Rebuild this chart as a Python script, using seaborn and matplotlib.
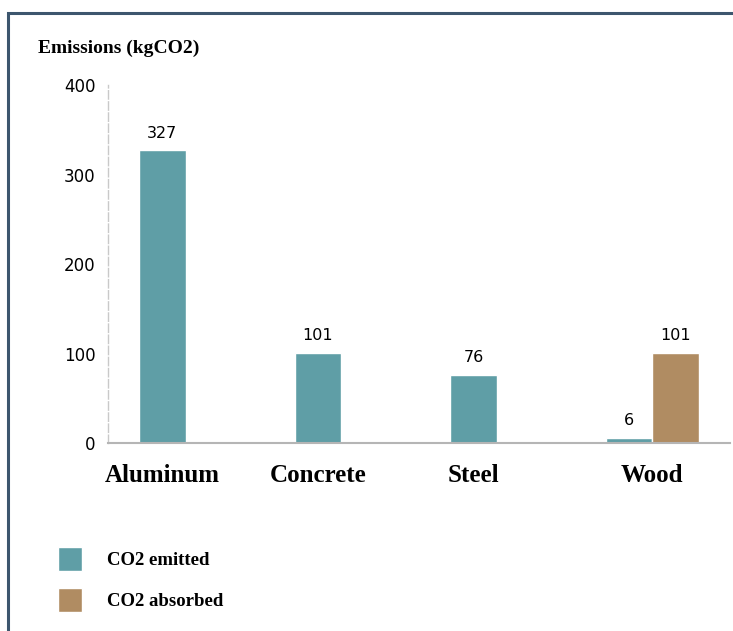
import seaborn as sns
import matplotlib.pyplot as plt
import pandas as pd
from matplotlib.patches import Rectangle

# Chart values
materials = ["Aluminum", "Concrete", "Steel", "Wood"]
emitted = [327, 101, 76, 6]
absorbed_materials = ["Wood"]
absorbed = [101]
series_names = ["CO2 emitted", "CO2 absorbed"]
y_ticks = [0, 100, 200, 300, 400]

teal = "#5f9ea6"
brown = "#b08c62"
bar_w = 0.3

df = pd.concat([
    pd.DataFrame({"material": materials, "kg": emitted, "series": series_names[0]}),
    pd.DataFrame({"material": absorbed_materials, "kg": absorbed, "series": series_names[1]}),
])

sns.set_style("white")
plt.rcParams["font.family"] = ["DejaVu Sans"]

fig = plt.figure(figsize=(7.33, 6.31), dpi=100)
ax = fig.add_axes([0.1473, 0.298, 0.8486, 0.567])

sns.barplot(
    data=df, x="material", y="kg", hue="series", order=materials,
    hue_order=series_names, palette=[teal, brown], width=2 * bar_w,
    dodge=True, saturation=1, ax=ax,
)

# value labels above bars
for cont in ax.containers:
    ax.bar_label(cont, fmt="%d", padding=7, fontsize=11.5, color="black")

ax.set_ylim(0, 400)
ax.set_yticks(y_ticks)
ax.set_xlim(-bar_w / 2 - 0.35, -bar_w / 2 + 3.65)

# single bars sit left of the category slot; wood label sits under the pair
tick_pos = [i - bar_w / 2 for i in range(len(materials) - 1)] + [len(materials) - 1]
ax.set_xticks(tick_pos)
ax.set_xticklabels(materials, fontfamily="Liberation Serif", fontweight="bold",
                   fontsize=18, color="black")
ax.tick_params(axis="x", length=0, pad=15)
ax.tick_params(axis="y", length=0, pad=9, labelsize=12, labelcolor="black")
ax.set_xlabel("")
ax.set_ylabel("")

for side in ["top", "right"]:
    ax.spines[side].set_visible(False)
ax.spines["left"].set_color("#c9c9c9")
ax.spines["left"].set_linewidth(1)
ax.spines["left"].set_linestyle((0, (6, 2)))
ax.spines["bottom"].set_color("#b5b5b5")
ax.spines["bottom"].set_linewidth(1.5)

fig.text(38 / 733, 1 - 48 / 631, "Emissions (kgCO2)", ha="left", va="center",
         fontfamily="Liberation Serif", fontweight="bold", fontsize=14, color="black")

handles, labels = ax.get_legend_handles_labels()
leg = ax.legend(
    handles, labels, loc="upper left", bbox_to_anchor=(58 / 733, 1 - 547 / 631),
    bbox_transform=fig.transFigure, frameon=False, borderpad=0, borderaxespad=0,
    handlelength=1.28, handleheight=1.59, handletextpad=1.33, labelspacing=0.9,
    prop={"family": "Liberation Serif", "weight": "bold", "size": 13.5},
)
for t in leg.get_texts():
    t.set_color("black")

# outer frame (top and left edges visible)
fig.add_artist(Rectangle((8 / 733, -0.1), 1.2, 1.1 - 13 / 631, transform=fig.transFigure,
                         fill=False, edgecolor="#3d566e", linewidth=2.2))

fig.savefig("out.png", dpi=100)
